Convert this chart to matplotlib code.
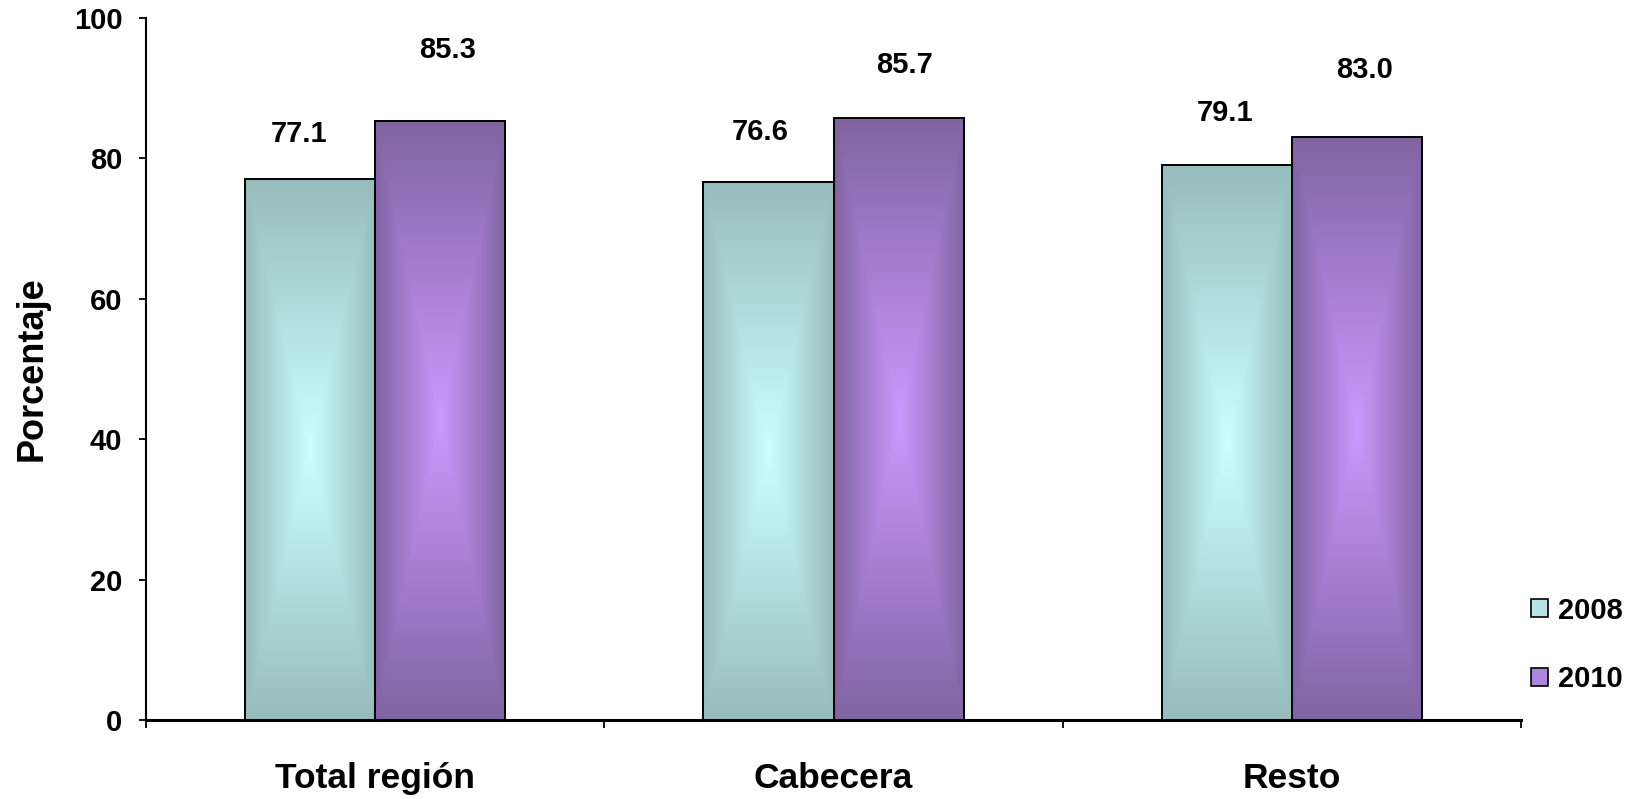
import numpy as np
import matplotlib
matplotlib.use("Agg")
import matplotlib.pyplot as plt
from matplotlib.patches import Rectangle
from matplotlib.colors import to_rgb

# ---- data ----
categories = ["Total región", "Cabecera", "Resto"]
series_names = ["2008", "2010"]
values_2008 = [77.1, 76.6, 79.1]
values_2010 = [85.3, 85.7, 83.0]
y_ticks = [0, 20, 40, 60, 80, 100]
y_label = "Porcentaje"

# ---- style ----
plt.rcParams['font.family'] = ['Liberation Sans', 'DejaVu Sans']
plt.rcParams['font.weight'] = 'bold'

edge_cols = ["#96BCBC", "#8064A2"]
center_cols = ["#CCFFFF", "#CC99FF"]
legend_cols = ["#B6E4E4", "#AC86DA"]

fig = plt.figure(figsize=(16.39, 7.99), dpi=100)
ax = fig.add_axes([146/1639, 1-720/799, 1375/1639, 702/799])

x = np.arange(len(categories))
bw = 0.284
offsets = [-bw/2, bw/2]
all_vals = [values_2008, values_2010]

def gradient_fill(ax, patch, c_center, c_edge):
    x0, y0 = patch.get_x(), patch.get_y()
    w, h = patch.get_width(), patch.get_height()
    ny, nx = 300, 80
    u = np.abs(np.linspace(-1, 1, nx))[None, :]
    v = np.abs(np.linspace(-1, 1, ny))[:, None]
    t = np.maximum(u, v)
    cc = np.array(to_rgb(c_center))
    ce = np.array(to_rgb(c_edge))
    img = cc[None, None, :] * (1 - t[..., None]) + ce[None, None, :] * t[..., None]
    im = ax.imshow(img, extent=(x0, x0 + w, y0, y0 + h), aspect='auto',
                   origin='lower', interpolation='bilinear', zorder=2)
    im.set_clip_path(patch)

bar_groups = []
for i, vals in enumerate(all_vals):
    bars = ax.bar(x + offsets[i], vals, bw, facecolor='none',
                  edgecolor='black', linewidth=1.4, zorder=3)
    for b in bars:
        gradient_fill(ax, b, center_cols[i], edge_cols[i])
    bar_groups.append(bars)

# value labels (offsets in pixels, as placed in the original)
label_dx = [[-11, -8, -2], [7, 6, 8]]
label_dy = [[45, 50, 52], [71, 53, 67]]
for i, bars in enumerate(bar_groups):
    for j, b in enumerate(bars):
        ax.annotate(f"{all_vals[i][j]:.1f}",
                    xy=(b.get_x() + b.get_width()/2, b.get_height()),
                    xytext=(label_dx[i][j], label_dy[i][j]),
                    textcoords='offset pixels', ha='center', va='center',
                    fontsize=21, fontweight='bold', color='black')

ax.set_xlim(-0.5, len(categories) - 0.5)
ax.set_ylim(0, 100)
ax.set_yticks(y_ticks)
ax.set_yticklabels([str(t) for t in y_ticks], fontsize=21, fontweight='bold')
ax.tick_params(axis='y', direction='out', length=5, width=1.3, pad=12)

ax.set_xticks(np.arange(len(categories) + 1) - 0.5)
ax.set_xticklabels([])
ax.tick_params(axis='x', which='major', direction='out', length=6, width=1.3)
ax.set_xticks(x, minor=True)
ax.set_xticklabels(categories, minor=True, fontsize=25.5, fontweight='bold')
ax.tick_params(axis='x', which='minor', length=0, pad=30)

for s in ['top', 'right']:
    ax.spines[s].set_visible(False)
ax.spines['left'].set_linewidth(1.5)
ax.spines['bottom'].set_linewidth(2.2)

ax.set_ylabel(y_label, fontsize=26, fontweight='bold')
ax.yaxis.set_label_coords(-0.070, 0.5)

handles = [Rectangle((0, 0), 1, 1, facecolor=legend_cols[i], edgecolor='black',
                     linewidth=1.2) for i in range(2)]
fig.legend(handles, series_names, loc='upper left',
           bbox_to_anchor=(1516/1639, 1 - 582/799), frameon=False,
           handlelength=0.58, handleheight=0.58,
           handletextpad=0.35, labelspacing=1.4, borderpad=0,
           prop={'weight': 'bold', 'size': 21})

fig.savefig("out.png", dpi=100)
